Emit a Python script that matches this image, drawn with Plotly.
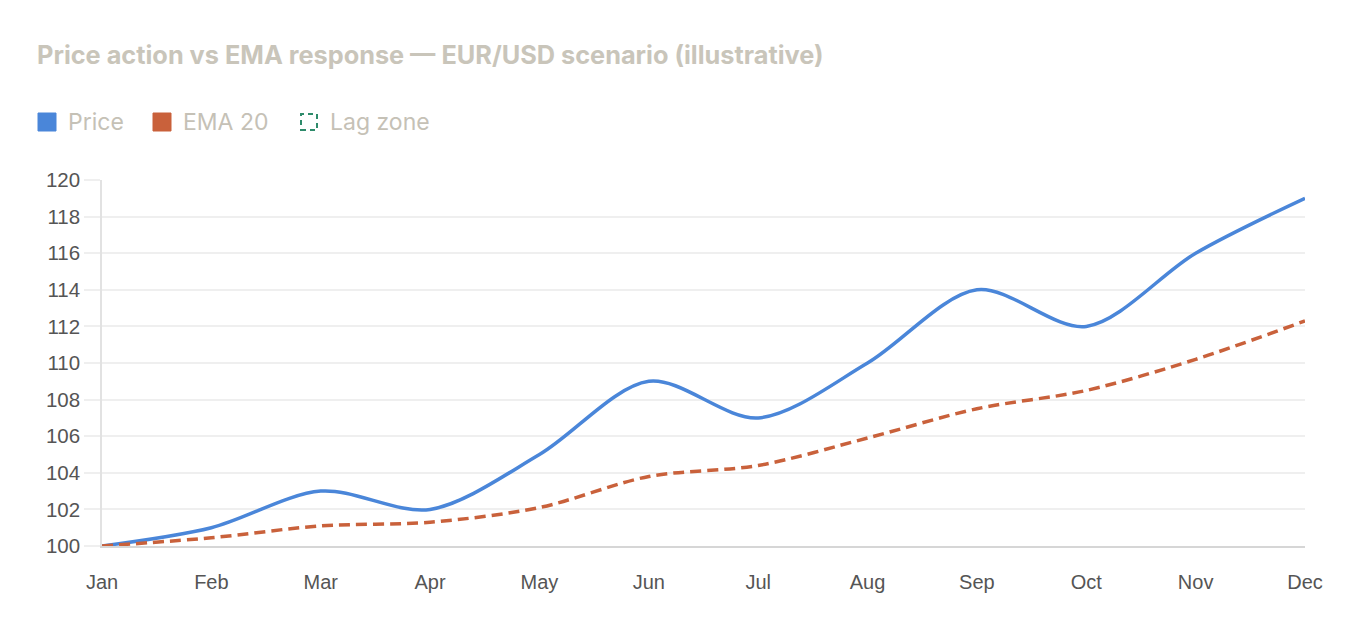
import plotly.graph_objects as go

months = ["Jan", "Feb", "Mar", "Apr", "May", "Jun", "Jul", "Aug", "Sep", "Oct", "Nov", "Dec"]
price = [100, 101, 103, 102, 105, 109, 107, 110, 114, 112, 116, 119]
ema20 = [100, 100.45, 101.1, 101.3, 102.1, 103.8, 104.4, 105.9, 107.5, 108.5, 110.2, 112.3]

legend_items = ["Price", "EMA 20", "Lag zone"]
legend_colors = ["#4a86d9", "#c9613b", "#2e8b6b"]

# page has an 8px body margin, so the figure is a bit smaller than the window
W, H = 1355, 614
ML, MR, MT, MB = 94, 58, 172, 76
PW, PH = W - ML - MR, H - MT - MB


def px(x):
    return (x - 8 - ML) / PW


def py(y):
    return (MT + PH - (y - 8)) / PH


fig = go.Figure()
fig.add_trace(go.Scatter(x=months, y=price, mode="lines", name="Price",
                         line=dict(color=legend_colors[0], width=3.5, shape="spline", smoothing=0.9)))
fig.add_trace(go.Scatter(x=months, y=ema20, mode="lines", name="EMA 20",
                         line=dict(color=legend_colors[1], width=3.5, dash="11px,6px",
                                   shape="spline", smoothing=0.9)))

# hand-made legend to get the boxed swatches
swatch_x = [38, 153, 300]
shapes = []
annotations = []
for i, (lab, col) in enumerate(zip(legend_items, legend_colors)):
    if lab == "Lag zone":
        shapes.append(dict(type="rect", xref="paper", yref="paper",
                           x0=px(swatch_x[i] + 1), x1=px(swatch_x[i] + 17),
                           y0=py(130), y1=py(114),
                           line=dict(color=col, width=2, dash="5px,4px"),
                           fillcolor="rgba(0,0,0,0)"))
    else:
        shapes.append(dict(type="rect", xref="paper", yref="paper",
                           x0=px(swatch_x[i]), x1=px(swatch_x[i] + 18),
                           y0=py(131), y1=py(113),
                           line=dict(color=col, width=1), fillcolor=col))
    annotations.append(dict(text=lab, xref="paper", yref="paper", x=px(swatch_x[i] + 28),
                            y=py(122), xanchor="left", yanchor="middle", showarrow=False,
                            font=dict(family="Inter, Roboto, sans-serif", size=23, color="#c5c1b6")))

fig.update_layout(
    width=W, height=H,
    margin=dict(l=ML, r=MR, t=MT, b=MB),
    paper_bgcolor="white", plot_bgcolor="white",
    title=dict(text="<b>Price action vs EMA response — EUR/USD scenario (illustrative)</b>",
               x=(37 - 8) / W, xanchor="left", y=1 - (55 - 8) / H, yanchor="middle",
               font=dict(family="Inter, Roboto, sans-serif", size=25.3, color="#c9c5ba")),
    shapes=shapes,
    annotations=annotations,
    showlegend=False,
    xaxis=dict(range=[0, 11], showgrid=False, showline=True, linecolor="#d6d6d6", linewidth=2,
               ticks="outside", ticklen=17, tickcolor="rgba(0,0,0,0)", zeroline=False,
               tickfont=dict(family="Liberation Sans, Arial, sans-serif", size=20, color="#555555")),
    yaxis=dict(range=[100, 120], dtick=2, showgrid=True, gridcolor="#efefef", gridwidth=1.5,
               showline=True, linecolor="#e2e2e2", linewidth=1.5, zeroline=False,
               ticks="outside", ticklen=16, tickcolor="#efefef", tickwidth=1.5,
               tickfont=dict(family="Liberation Sans, Arial, sans-serif", size=20.5, color="#555555")),
)

fig.write_html("out.html")
